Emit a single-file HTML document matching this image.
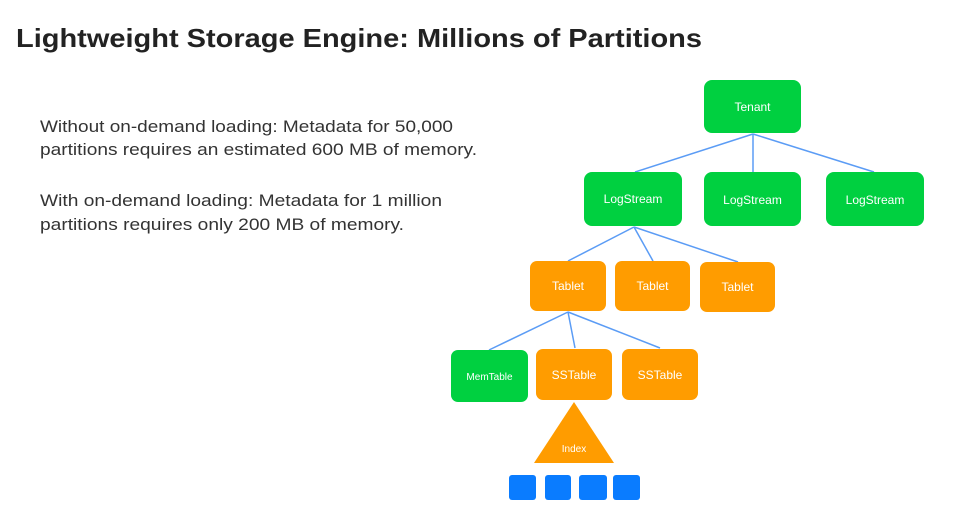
<!DOCTYPE html>
<html><head><meta charset="utf-8"><style>
html,body{margin:0;padding:0;background:#fff;}
svg{display:block;}
</style></head><body>
<svg width="958" height="516" viewBox="0 0 958 516" xmlns="http://www.w3.org/2000/svg">
<rect width="958" height="516" fill="#fff"/>
<text x="16" y="47" font-family="Liberation Sans, sans-serif" font-weight="bold" font-size="26" fill="#222" textLength="686" lengthAdjust="spacingAndGlyphs">Lightweight Storage Engine: Millions of Partitions</text>
<g font-family="Liberation Sans, sans-serif" font-size="17" fill="#333">
<text x="40" y="132" textLength="413" lengthAdjust="spacingAndGlyphs">Without on-demand loading: Metadata for 50,000</text>
<text x="40" y="155" textLength="437" lengthAdjust="spacingAndGlyphs">partitions requires an estimated 600 MB of memory.</text>
<text x="40" y="206" textLength="402" lengthAdjust="spacingAndGlyphs">With on-demand loading: Metadata for 1 million</text>
<text x="40" y="230" textLength="364" lengthAdjust="spacingAndGlyphs">partitions requires only 200 MB of memory.</text>
</g>
<g stroke="#5b9cf5" stroke-width="1.5" fill="none">
<line x1="753" y1="134" x2="635" y2="172"/>
<line x1="753" y1="134" x2="753" y2="172"/>
<line x1="753" y1="134" x2="874" y2="172"/>
<line x1="634" y1="227" x2="568" y2="261"/>
<line x1="634" y1="227" x2="653" y2="261"/>
<line x1="634" y1="227" x2="738" y2="262"/>
<line x1="568" y1="312" x2="489" y2="350"/>
<line x1="568" y1="312" x2="575" y2="348"/>
<line x1="568" y1="312" x2="660" y2="348"/>
</g>
<g fill="#00d040">
<rect x="704" y="80" width="97" height="53" rx="8"/>
<rect x="584" y="172" width="98" height="54" rx="8"/>
<rect x="704" y="172" width="97" height="54" rx="8"/>
<rect x="826" y="172" width="98" height="54" rx="8"/>
<rect x="451" y="350" width="77" height="52" rx="7"/>
</g>
<g fill="#ff9c00">
<rect x="530" y="261" width="76" height="50" rx="7"/>
<rect x="615" y="261" width="75" height="50" rx="7"/>
<rect x="700" y="262" width="75" height="50" rx="7"/>
<rect x="536" y="349" width="76" height="51" rx="7"/>
<rect x="622" y="349" width="76" height="51" rx="7"/>
<polygon points="574,402 614,463 534,463"/>
</g>
<g fill="#0a7cff">
<rect x="509" y="475" width="27" height="25" rx="3"/>
<rect x="545" y="475" width="26" height="25" rx="3"/>
<rect x="579" y="475" width="28" height="25" rx="3"/>
<rect x="613" y="475" width="27" height="25" rx="3"/>
</g>
<g font-family="Liberation Sans, sans-serif" font-size="12" fill="#fff" text-anchor="middle">
<text x="752.5" y="111">Tenant</text>
<text x="633" y="203">LogStream</text>
<text x="752.5" y="204">LogStream</text>
<text x="875" y="204">LogStream</text>
<text x="568" y="290">Tablet</text>
<text x="652.5" y="290">Tablet</text>
<text x="737.5" y="291">Tablet</text>
<text x="489.5" y="380" font-size="10">MemTable</text>
<text x="574" y="379">SSTable</text>
<text x="660" y="379">SSTable</text>
<text x="574" y="452" font-size="10">Index</text>
</g>
</svg>
</body></html>
